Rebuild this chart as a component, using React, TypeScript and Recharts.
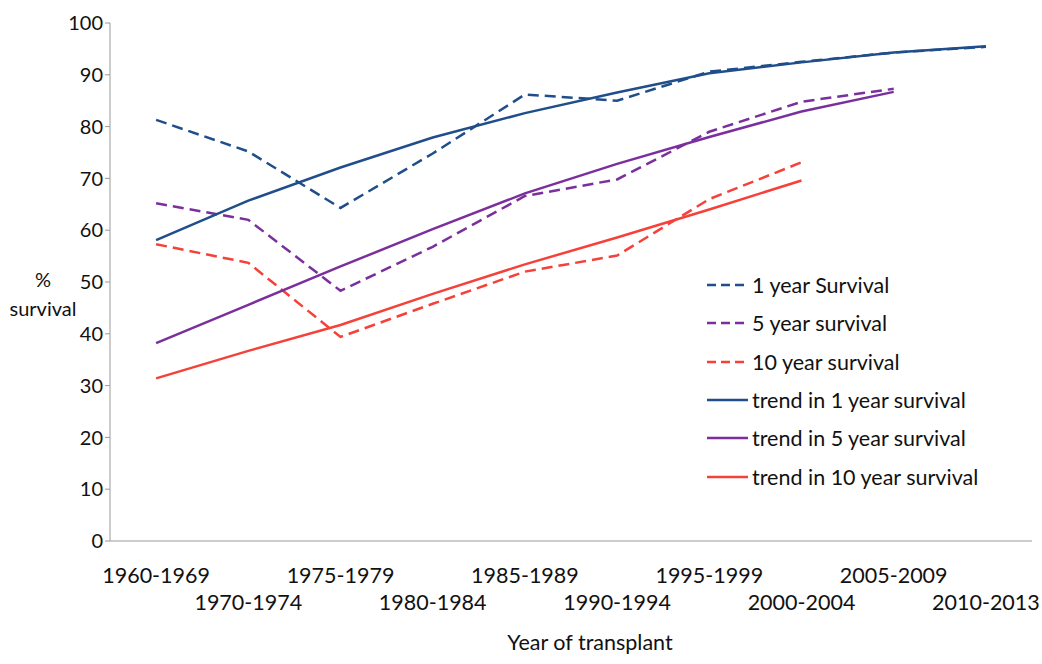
import React from 'react';
import { LineChart, Line, XAxis, YAxis, Label } from 'recharts';

const categories = [
  '1960-1969', '1970-1974', '1975-1979', '1980-1984', '1985-1989',
  '1990-1994', '1995-1999', '2000-2004', '2005-2009', '2010-2013',
];

const oneYear = [81.3, 75.2, 64.3, 74.8, 86.2, 85.0, 90.6, 92.5, 94.3, 95.4];
const fiveYear = [65.2, 62.0, 48.3, 56.8, 66.6, 69.8, 79.0, 84.8, 87.3, null];
const tenYear = [57.3, 53.7, 39.4, 45.8, 52.0, 55.1, 66.0, 73.1, null, null];
const trendOne = [58.1, 65.7, 72.1, 77.9, 82.6, 86.6, 90.3, 92.4, 94.3, 95.5];
const trendFive = [38.2, 45.6, 53.0, 60.2, 67.1, 72.8, 78.0, 82.9, 86.7, null];
const trendTen = [31.4, 36.7, 41.7, 47.7, 53.4, 58.6, 64.0, 69.6, null, null];

const yTicks = [0, 10, 20, 30, 40, 50, 60, 70, 80, 90, 100];

const BLUE = '#1F4E8A';
const PURPLE = '#7B2F9C';
const RED = '#F5413A';
const AXIS = '#9a9a9a';
const FONT = 'Lato, "Open Sans", sans-serif';
const DASH = '11 6';

const series = [
  { key: 'oneYear', name: '1 year Survival', color: BLUE, dash: DASH },
  { key: 'fiveYear', name: '5 year survival', color: PURPLE, dash: DASH },
  { key: 'tenYear', name: '10 year survival', color: RED, dash: DASH },
  { key: 'trendOne', name: 'trend in 1 year survival', color: BLUE, dash: undefined },
  { key: 'trendFive', name: 'trend in 5 year survival', color: PURPLE, dash: undefined },
  { key: 'trendTen', name: 'trend in 10 year survival', color: RED, dash: undefined },
];

// each category sits in the middle of its band on a 0..n number axis
const data = categories.map((cat, i) => ({
  pos: i + 0.5,
  cat,
  oneYear: oneYear[i],
  fiveYear: fiveYear[i],
  tenYear: tenYear[i],
  trendOne: trendOne[i],
  trendFive: trendFive[i],
  trendTen: trendTen[i],
}));

const boundaryTicks = categories.map((_, i) => i).concat(categories.length);
const centerTicks = categories.map((_, i) => i + 0.5);

const CategoryTick = (props: any) => {
  const { x, y, payload } = props;
  const i = Math.round(payload.value - 0.5);
  const secondRow = i % 2 === 1;
  return (
    <text
      x={x}
      y={y + (secondRow ? 51 : 24)}
      textAnchor="middle"
      fontSize={21.5}
      fontFamily={FONT}
      fill="#111"
    >
      {categories[i]}
    </text>
  );
};

const LegendBox = () => (
  <div
    style={{
      position: 'absolute',
      left: 705,
      top: 266,
      fontFamily: FONT,
      fontSize: 21.5,
      color: '#111',
    }}
  >
    {series.map((s) => (
      <div key={s.key} style={{ display: 'flex', alignItems: 'center', height: 38.3, whiteSpace: 'nowrap' }}>
        <svg width={44} height={10} style={{ marginRight: 3 }}>
          <line
            x1={2}
            y1={5}
            x2={43}
            y2={5}
            stroke={s.color}
            strokeWidth={2.5}
            strokeDasharray={s.dash ? '9 5' : undefined}
          />
        </svg>
        <span>{s.name}</span>
      </div>
    ))}
  </div>
);

export default function App() {
  return (
    <div style={{ position: 'absolute', left: 0, top: 0, width: 1042, height: 664, background: '#fff' }}>
      <LineChart
        width={1042}
        height={664}
        data={data}
        margin={{ top: 23, right: 10, bottom: 3, left: 0 }}
      >
        <XAxis
          dataKey="pos"
          type="number"
          domain={[0, categories.length]}
          ticks={boundaryTicks}
          tick={false}
          tickSize={6}
          stroke={AXIS}
          height={10}
          allowDataOverflow
        />
        <XAxis
          xAxisId="labels"
          dataKey="pos"
          type="number"
          domain={[0, categories.length]}
          ticks={centerTicks}
          tick={<CategoryTick />}
          tickLine={false}
          axisLine={false}
          height={110}
          interval={0}
        >
          <Label
            content={(props: any) => {
              const vb = props.viewBox;
              return (
                <text
                  x={vb.x + vb.width / 2 + 19}
                  y={vb.y + vb.height - 11}
                  textAnchor="middle"
                  fontFamily={FONT}
                  fontSize={21.5}
                  fill="#111"
                >
                  Year of transplant
                </text>
              );
            }}
          />
        </XAxis>
        <YAxis
          domain={[0, 100]}
          ticks={yTicks}
          width={110}
          tickSize={5}
          tickMargin={2}
          stroke={AXIS}
          tick={{ fontFamily: FONT, fontSize: 20, fill: '#111' }}
          interval={0}
        >
          <Label
            content={() => (
              <text x={43} textAnchor="middle" fontFamily={FONT} fontSize={20} fill="#111">
                <tspan x={43} y={287}>%</tspan>
                <tspan x={43} y={316}>survival</tspan>
              </text>
            )}
          />
        </YAxis>
        {series.map((s) => (
          <Line
            key={s.key}
            dataKey={s.key}
            name={s.name}
            type="linear"
            stroke={s.color}
            strokeWidth={2.5}
            strokeDasharray={s.dash}
            dot={false}
            activeDot={false}
            isAnimationActive={false}
          />
        ))}
      </LineChart>
      <LegendBox />
    </div>
  );
}
